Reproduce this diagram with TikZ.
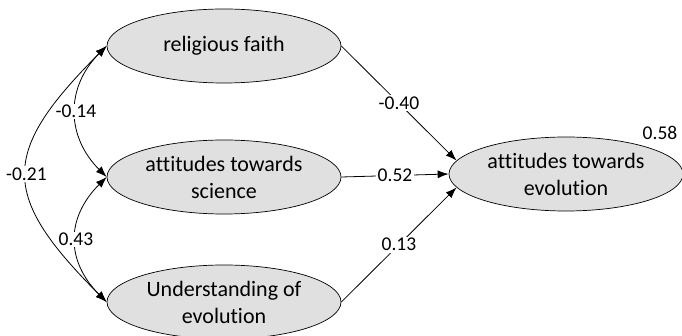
\documentclass[tikz,border=0pt]{standalone}
\usepackage{fontspec}
\setmainfont{Carlito}[Ligatures=NoCommon]
\usetikzlibrary{positioning,shapes.geometric,arrows.meta}
\definecolor{ellgray}{RGB}{224,224,224}
\tikzset{
  latent/.style={ellipse, draw=black, line width=0.7pt, fill=ellgray, minimum width=234pt, minimum height=74pt, align=center, inner sep=0pt, font=\fontsize{22}{27}\selectfont},
  coef/.style={fill=white, inner sep=1.5pt, font=\fontsize{19.5}{22}\selectfont},
  reg/.style={-{Latex[length=11pt,width=8pt]}, line width=0.8pt},
  corr/.style={{Latex[length=11pt,width=8pt]}-{Latex[length=11pt,width=8pt]}, line width=0.8pt}
}
\begin{document}
\begin{tikzpicture}[x=1pt,y=-1pt]
\useasboundingbox (0,0) rectangle (682,336);
\node[latent] (faith) at (224,46) {religious faith};
\node[latent] (sci) at (224,177) {attitudes towards\\science};
\node[latent] (und) at (224,302) {Understanding of\\evolution};
\node[latent] (evo) at (566,174) {attitudes towards\\evolution};
\node[font=\fontsize{19.5}{22}\selectfont] (rsq) at (660,133) {0.58};
% covariances
\draw[corr] (faith.west) .. controls +(-107,107) and +(-107,-107) .. (und.west) node[coef,midway] {-0.21};
\draw[corr] (faith.west) .. controls +(-41,41) and +(-41,-41) .. (sci.west) node[coef,midway] {-0.14};
\draw[corr] (sci.west) .. controls +(-41,41) and +(-41,-41) .. (und.west) node[coef,midway] {0.43};
% paths
\draw[reg] (faith.east) -- (evo.173) node[coef,midway] {-0.40};
\draw[reg] (sci.east) -- (evo.west) node[coef,midway] {0.52};
\draw[reg] (und.east) -- (evo.187) node[coef,midway] {0.13};
\end{tikzpicture}
\end{document}
